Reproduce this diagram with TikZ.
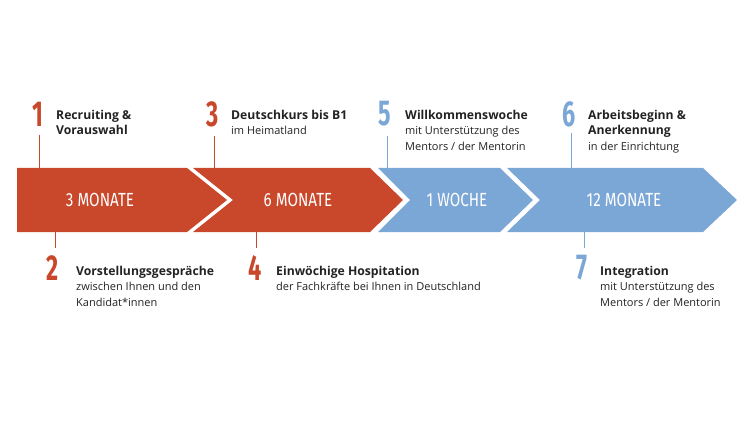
\documentclass[tikz,border=0pt]{standalone}
\usepackage{fontspec}
\setmainfont{Open Sans}
\newfontfamily\numfont{Fira Sans}
\definecolor{cred}{HTML}{C9472A}
\definecolor{cblue}{HTML}{7BA7D6}
\definecolor{ctext}{HTML}{222222}
\newcommand{\ttl}[1]{\textbf{\fontsize{12.2}{15.5}\selectfont #1}}
\begin{document}
\begin{tikzpicture}[x=1pt,y=-1pt,
  bandtxt/.style={text=white,font=\numfont\fontsize{19}{19}\selectfont,inner sep=0},
  num/.style={font=\numfont\bfseries\fontsize{36}{36}\selectfont,inner sep=0},
  lab/.style={anchor=north west,align=left,inner sep=0,text=ctext,font=\fontsize{11}{15.5}\selectfont},
  tick/.style={line width=1pt}]
\useasboundingbox (0,0) rectangle (749,422);
\fill[cred] (17,168) -- (187,168) -- (227,200) -- (187,232) -- (17,232) -- cycle;
\fill[cred] (193,168) -- (370,168) -- (403,200) -- (370,232) -- (193,232) -- (233,200) -- cycle;
\fill[cblue] (378,168) -- (500,168) -- (533,200) -- (500,232) -- (378,232) -- (410,200) -- cycle;
\fill[cblue] (507,168) -- (703,168) -- (737,200) -- (703,232) -- (507,232) -- (540,200) -- cycle;
\node[bandtxt] (b1) at (100,200) {\scalebox{0.8}[1]{3 MONATE}};
\node[bandtxt] (b2) at (298,200) {\scalebox{0.8}[1]{6 MONATE}};
\node[bandtxt] (b3) at (457,200) {\scalebox{0.8}[1]{1 WOCHE}};
\node[bandtxt] (b4) at (624,200) {\scalebox{0.8}[1]{12 MONATE}};
% ticks
\coordinate (t1a) at (39,135); \coordinate (t1b) at (39,168);
\coordinate (t3a) at (214,136); \coordinate (t3b) at (214,168);
\coordinate (t5a) at (387,136); \coordinate (t5b) at (387,168);
\coordinate (t6a) at (571,133); \coordinate (t6b) at (571,168);
\coordinate (t2a) at (55,232); \coordinate (t2b) at (55,248);
\coordinate (t4a) at (256,232); \coordinate (t4b) at (256,248);
\coordinate (t7a) at (584,232); \coordinate (t7b) at (584,248);
\draw[tick,cred] (t1a) -- (t1b); \draw[tick,cred] (t3a) -- (t3b);
\draw[tick,cred] (t2a) -- (t2b); \draw[tick,cred] (t4a) -- (t4b);
\draw[tick,cblue] (t5a) -- (t5b); \draw[tick,cblue] (t6a) -- (t6b);
\draw[tick,cblue] (t7a) -- (t7b);
% numbers
\node[num,text=cred] (n1) at (38,114) {\scalebox{0.65}[1]{1}};
\node[num,text=cred] (n3) at (213,114) {\scalebox{0.65}[1]{3}};
\node[num,text=cblue] (n5) at (385,114) {\scalebox{0.65}[1]{5}};
\node[num,text=cblue] (n6) at (569,114) {\scalebox{0.65}[1]{6}};
\node[num,text=cred] (n2) at (53,268) {\scalebox{0.65}[1]{2}};
\node[num,text=cred] (n4) at (255,268) {\scalebox{0.65}[1]{4}};
\node[num,text=cblue] (n7) at (582,268) {\scalebox{0.65}[1]{7}};
% labels
\node[lab] (l1) at (56,110) {\ttl{Recruiting \&}\\\ttl{Vorauswahl}};
\node[lab] (l3) at (231,110) {\ttl{Deutschkurs bis B1}\\im Heimatland};
\node[lab] (l5) at (405,110) {\ttl{Willkommenswoche}\\mit Unterstützung des\\Mentors / der Mentorin};
\node[lab] (l6) at (588,110) {\ttl{Arbeitsbeginn \&}\\\ttl{Anerkennung}\\in der Einrichtung};
\node[lab] (l2) at (76,266) {\ttl{Vorstellungsgespräche}\\zwischen Ihnen und den\\Kandidat*innen};
\node[lab] (l4) at (276,266) {\ttl{Einwöchige Hospitation}\\der Fachkräfte bei Ihnen in Deutschland};
\node[lab] (l7) at (600,266) {\ttl{Integration}\\mit Unterstützung des\\Mentors / der Mentorin};
\end{tikzpicture}
\end{document}
